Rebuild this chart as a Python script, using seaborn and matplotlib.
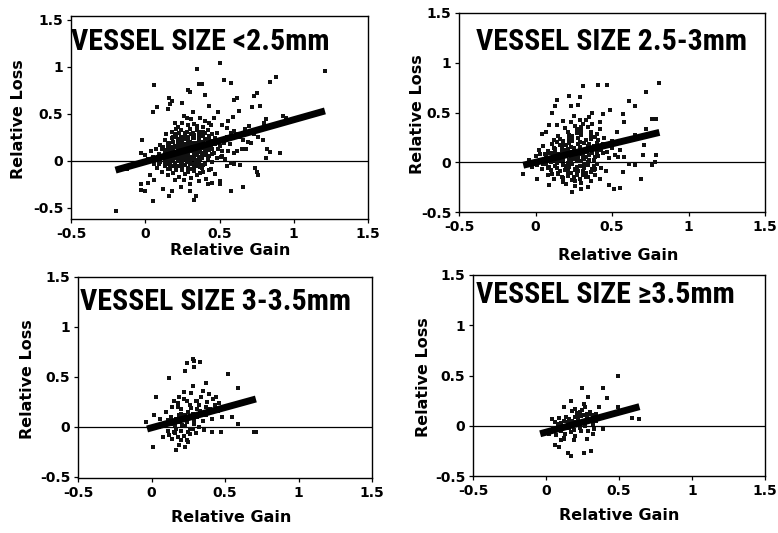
import matplotlib
matplotlib.use("Agg")
import matplotlib.pyplot as plt
from matplotlib import font_manager
import seaborn as sns
import pandas as pd

# ---------------- data ----------------
tick_values = [-0.5, 0, 0.5, 1, 1.5]
tick_labels = ["-0.5", "0", "0.5", "1", "1.5"]
panel_titles = ["VESSEL SIZE <2.5mm", "VESSEL SIZE 2.5-3mm",
                "VESSEL SIZE 3-3.5mm", "VESSEL SIZE \u22653.5mm"]

gain_lt25 = [-0.20, 1.21, 0.50, 0.35, 0.53, 0.58, 0.84, 0.88, 0.06, 0.36, 0.38, 0.29, 0.30, 0.40, 0.75,
             0.73, 0.60, 0.62, 0.16, 0.18, 0.17, 0.25, 0.08, 0.15, 0.32, 0.43, 0.49, 0.26, 0.28, 0.05,
             0.56, 0.59, 0.63, 0.72, 0.77, 0.81, 0.80, 0.93, 0.95, 0.91, 0.81, 0.84, 0.82, 0.79, 0.76,
             0.71, 0.69, 0.67, 0.70, 0.73, 0.74, 0.76, 0.75, 0.66, 0.58, 0.55, 0.60, 0.50, 0.50, 0.45,
             0.42, 0.33, 0.34, 0.30, 0.24, 0.18, 0.16, 0.12, 0.05, -0.03, -0.03, 0.00, 0.02, 0.06, 0.03,
             -0.02, -0.03, 0.00, -0.05, -0.12, 0.40, 0.43, 0.46, 0.52, 0.55, 0.58, 0.60, 0.62, 0.64, 0.66,
             0.56, 0.60, 0.62, 0.65, 0.68, 0.52, 0.54, 0.58, 0.64,
             0.14, 0.18, 0.21, 0.24, 0.27, 0.30, 0.33, 0.36, 0.39, 0.42, 0.45, 0.48, 0.22, 0.29, 0.35,
             0.20, 0.31, 0.37,
             0.10, 0.13, 0.16, 0.18, 0.20, 0.22, 0.24, 0.26, 0.28, 0.30, 0.32, 0.34, 0.36, 0.38, 0.40,
             0.42, 0.44, 0.47, 0.50, 0.53, 0.25, 0.29, 0.33, 0.21, 0.37,
             0.04, 0.07, 0.09, 0.11, 0.13, 0.15, 0.17, 0.19, 0.21, 0.23, 0.25, 0.27, 0.29, 0.31, 0.33,
             0.35, 0.37, 0.39, 0.41, 0.43, 0.46, 0.49, 0.52, 0.22, 0.26, 0.30, 0.34, 0.18, 0.28, 0.24,
             0.02, 0.06, 0.08, 0.10, 0.12, 0.14, 0.16, 0.18, 0.20, 0.22, 0.24, 0.26, 0.28, 0.30, 0.32,
             0.34, 0.36, 0.38, 0.40, 0.42, 0.45, 0.48, 0.25, 0.29, 0.19, 0.33,
             0.08, 0.11, 0.13, 0.15, 0.17, 0.19, 0.21, 0.23, 0.25, 0.27, 0.29, 0.31, 0.33, 0.35, 0.37,
             0.39, 0.41, 0.44, 0.47, 0.26, 0.20, 0.36, 0.30,
             0.15, 0.17, 0.19, 0.21, 0.23, 0.25, 0.27, 0.29, 0.31, 0.33, 0.35, 0.37, 0.39, 0.41, 0.43,
             0.45, 0.20, 0.24, 0.28, 0.32, 0.36, 0.40, 0.26, 0.30, 0.34, 0.22, 0.18, 0.16, 0.14, 0.12,
             0.24, 0.28, 0.32, 0.36, 0.23, 0.27, 0.31, 0.35, 0.19, 0.15, 0.39, 0.43, 0.21, 0.25, 0.33,
             0.39, 0.44, 0.47, 0.50, 0.51, 0.55, 0.57, 0.11, 0.09, 0.13, 0.05, 0.27, 0.29, 0.23, 0.35,
             0.16, 0.18, 0.20, 0.22, 0.24, 0.26, 0.28, 0.30, 0.32, 0.34, 0.36, 0.38, 0.40, 0.42, 0.44,
             0.17, 0.19, 0.21, 0.23, 0.25, 0.27, 0.29, 0.31, 0.33, 0.35, 0.37, 0.39, 0.41, 0.43, 0.45,
             0.15, 0.19, 0.23, 0.27, 0.31, 0.35, 0.39, 0.43, 0.21, 0.25, 0.29, 0.33, 0.37, 0.13, 0.17,
             0.22, 0.26, 0.30, 0.34, 0.38]
loss_lt25 = [-0.53, 0.96, 1.04, 0.98, 0.86, 0.83, 0.84, 0.89, 0.81, 0.82, 0.82, 0.75, 0.73, 0.70, 0.72,
             0.69, 0.65, 0.67, 0.67, 0.64, 0.60, 0.61, 0.57, 0.55, 0.52, 0.58, 0.52, 0.48, 0.45, 0.52,
             0.42, 0.47, 0.53, 0.57, 0.58, 0.44, 0.40, 0.48, 0.46, 0.08, 0.03, 0.09, 0.12, 0.22, 0.25,
             0.19, 0.20, 0.34, 0.37, 0.28, -0.08, -0.15, -0.12, -0.28, -0.32, -0.06, -0.04, -0.22, -0.25, -0.24,
             -0.25, -0.42, -0.38, -0.32, -0.28, -0.32, -0.37, -0.30, -0.43, -0.25, -0.31, -0.32, -0.24, -0.20, -0.15,
             0.22, 0.08, 0.06, -0.02, -0.09, 0.42, 0.40, 0.45, 0.38, 0.35, 0.30, 0.32, 0.28, 0.25, 0.22,
             0.10, 0.08, 0.10, 0.13, 0.12, 0.05, 0.02, -0.02, -0.05,
             0.28, 0.31, 0.26, 0.33, 0.29, 0.34, 0.27, 0.31, 0.26, 0.33, 0.28, 0.30, 0.36, 0.38, 0.37,
             0.40, 0.44, 0.46,
             0.17, 0.22, 0.19, 0.24, 0.16, 0.21, 0.18, 0.23, 0.16, 0.20, 0.24, 0.17, 0.22, 0.19, 0.23,
             0.16, 0.21, 0.18, 0.22, 0.19, 0.20, 0.25, 0.19, 0.25, 0.15,
             0.10, 0.13, 0.07, 0.12, 0.08, 0.14, 0.06, 0.11, 0.09, 0.14, 0.06, 0.12, 0.08, 0.13, 0.07,
             0.11, 0.09, 0.14, 0.06, 0.11, 0.08, 0.13, 0.10, 0.12, 0.09, 0.10, 0.14, 0.09, 0.05, 0.11,
             0.02, -0.03, 0.03, -0.01, 0.04, -0.04, 0.01, 0.04, -0.02, 0.03, -0.04, 0.02, -0.01, 0.04, -0.03,
             0.01, -0.02, 0.03, -0.04, 0.02, -0.01, 0.03, 0.00, 0.02, 0.00, 0.04,
             -0.08, -0.12, -0.06, -0.15, -0.09, -0.13, -0.07, -0.17, -0.10, -0.14, -0.08, -0.18, -0.11, -0.15, -0.07,
             -0.12, -0.19, -0.09, -0.14, -0.21, -0.20, -0.22, -0.25,
             0.02, 0.12, 0.20, 0.05, 0.08, 0.16, 0.03, 0.11, 0.17, 0.02, 0.06, 0.12, 0.08, 0.15, 0.05,
             0.12, 0.28, 0.25, 0.31, 0.30, 0.26, 0.29, 0.14, 0.15, 0.09, 0.17, 0.15, 0.08, 0.11, 0.15,
             0.02, 0.07, 0.10, 0.04, -0.06, -0.05, -0.09, -0.06, -0.06, -0.09, -0.05, -0.10, 0.34, 0.40, 0.39,
             0.36, 0.38, 0.24, 0.16, 0.04, 0.25, 0.18, 0.03, -0.04, -0.02, 0.04, 0.18, 0.22, 0.23, 0.19,
             0.06, 0.13, 0.03, 0.10, 0.18, 0.05, 0.14, 0.01, 0.16, 0.08, 0.21, 0.06, 0.11, 0.02, 0.17,
             -0.03, 0.02, 0.15, 0.07, 0.22, 0.10, 0.19, 0.04, 0.24, 0.13, 0.02, 0.20, 0.10, 0.26, 0.07,
             0.18, 0.25, 0.29, 0.25, 0.28, 0.33, 0.31, 0.22, -0.10, -0.07, -0.12, -0.08, -0.13, 0.00, -0.05,
             0.00, 0.04, -0.04, -0.01, -0.08]

gain_25_3 = [0.81, 0.72, 0.47, 0.41, 0.31, 0.22, 0.29, 0.14, 0.13, 0.11, 0.23, 0.28, 0.37, 0.44, 0.37,
             0.33, 0.49, 0.57, 0.65, 0.61, 0.76, 0.79, 0.72, 0.65, 0.71, 0.58, 0.53, 0.04, 0.07, 0.09,
             0.14, -0.08, 0.01, 0.09, 0.24, 0.30, 0.51, 0.55, 0.48, 0.57, 0.65, 0.70, 0.76, 0.78, 0.79,
             0.69, 0.61, 0.54,
             0.12, 0.15, 0.18, 0.21, 0.24, 0.27, 0.30, 0.33, 0.36, 0.39, 0.42, 0.45, 0.19, 0.26, 0.31, 0.23,
             0.02, 0.05, 0.08, 0.11, 0.13, 0.16, 0.19, 0.22, 0.25, 0.28, 0.31, 0.34, 0.37, 0.40, 0.43,
             0.47, 0.50, 0.24, 0.29, 0.17,
             -0.04, 0.00, 0.03, 0.06, 0.09, 0.12, 0.14, 0.17, 0.20, 0.22, 0.25, 0.27, 0.30, 0.32, 0.35,
             0.38, 0.41, 0.44, 0.48, 0.52, 0.23, 0.28, 0.18, 0.26, 0.15, 0.33,
             0.01, 0.04, 0.07, 0.10, 0.13, 0.16, 0.18, 0.21, 0.24, 0.26, 0.29, 0.31, 0.34, 0.37, 0.40,
             0.43, 0.46, 0.22, 0.27,
             0.08, 0.12, 0.15, 0.18, 0.21, 0.24, 0.27, 0.30, 0.33, 0.36, 0.39, 0.42, 0.26, 0.20, 0.34,
             0.10, 0.13, 0.15, 0.17, 0.19, 0.21, 0.23, 0.25, 0.27, 0.29, 0.31, 0.33, 0.35, 0.37, 0.39,
             0.41, 0.20, 0.24, 0.28, 0.32, 0.36, 0.40, 0.16, 0.12, 0.08, 0.06, 0.05, 0.09, 0.14, 0.19,
             0.23, 0.28, 0.32, 0.36, 0.25, 0.29, 0.17, 0.21, 0.26, 0.30, 0.34, 0.38, 0.44, 0.47, 0.50,
             0.55, 0.58, 0.22, 0.27, 0.34, 0.29, 0.35, 0.25, 0.18, 0.42, 0.03, -0.02, 0.11, 0.31, 0.38,
             0.07, 0.10, 0.13, 0.16, 0.19, 0.22, 0.25, 0.28, 0.31, 0.34, 0.37, 0.40,
             0.08, 0.11, 0.14, 0.17, 0.20, 0.23, 0.26, 0.29, 0.32, 0.35, 0.38, 0.41,
             0.12, 0.15, 0.18, 0.21, 0.24, 0.27, 0.30, 0.33, 0.36, 0.39, 0.14, 0.18, 0.22, 0.26, 0.30, 0.34]
loss_25_3 = [0.80, 0.71, 0.78, 0.78, 0.77, 0.67, 0.66, 0.63, 0.57, 0.50, 0.57, 0.58, 0.50, 0.48, 0.38,
             0.42, 0.53, 0.48, 0.57, 0.62, 0.43, 0.43, 0.33, 0.27, 0.17, 0.40, 0.30, 0.28, 0.30, 0.37,
             0.37, -0.12, -0.17, -0.23, -0.30, -0.27, -0.27, -0.26, -0.23, -0.10, -0.03, 0.07, -0.03, 0.00, 0.07,
             -0.17, -0.02, 0.05,
             0.22, 0.26, 0.21, 0.30, 0.24, 0.33, 0.27, 0.22, 0.30, 0.25, 0.33, 0.24, 0.34, 0.36, 0.38, 0.40,
             0.12, 0.16, 0.11, 0.18, 0.13, 0.17, 0.12, 0.19, 0.14, 0.18, 0.11, 0.16, 0.13, 0.19, 0.12,
             0.16, 0.14, 0.10, 0.15, 0.14,
             0.02, 0.06, 0.01, 0.08, 0.03, 0.07, 0.01, 0.05, 0.09, 0.02, 0.06, 0.01, 0.08, 0.03, 0.07,
             0.02, 0.06, 0.09, 0.04, 0.07, 0.05, 0.04, 0.02, 0.09, 0.08, 0.05,
             -0.03, -0.07, -0.02, -0.08, -0.04, -0.09, -0.03, -0.06, -0.02, -0.08, -0.04, -0.09, -0.03, -0.07, -0.02,
             -0.06, -0.09, -0.05, -0.05,
             -0.13, -0.17, -0.12, -0.20, -0.14, -0.18, -0.12, -0.21, -0.15, -0.19, -0.13, -0.17, -0.24, -0.22, -0.25,
             0.04, 0.10, 0.04, 0.09, 0.06, 0.13, 0.02, 0.11, 0.07, 0.12, 0.05, 0.10, 0.02, 0.09, 0.05,
             0.13, 0.17, 0.21, 0.24, 0.19, 0.23, 0.28, 0.23, 0.14, 0.09, 0.03, -0.02, -0.05, -0.06, -0.08,
             -0.11, -0.09, -0.06, -0.10, -0.15, -0.17, -0.15, -0.01, 0.03, 0.01, 0.13, 0.16, 0.18, 0.10, 0.21,
             0.12, 0.05, 0.27, 0.29, 0.35, 0.42, 0.45, 0.46, 0.41, 0.40, 0.08, -0.05, -0.12, -0.13, -0.04,
             0.05, 0.00, 0.06, 0.02, 0.08, 0.00, 0.04, 0.10, 0.07, 0.00, 0.11, 0.09,
             -0.06, 0.09, -0.01, 0.12, -0.04, 0.15, -0.07, 0.20, -0.02, 0.18, -0.08, 0.22,
             0.02, -0.11, 0.17, -0.10, 0.26, -0.13, 0.31, -0.11, 0.27, -0.07, 0.20, -0.16, 0.23, -0.19, 0.35, -0.15]

gain_3_35 = [0.29, 0.28, 0.33, 0.24, 0.29, 0.23, 0.52, 0.12, 0.37, 0.28, 0.59, 0.03, 0.02, -0.04, 0.01,
             0.17, 0.25, 0.25, 0.41, 0.47, 0.55, 0.59, 0.70, 0.71, 0.44, 0.39, 0.31, 0.15, 0.19, 0.20,
             0.06, 0.09, 0.11, 0.13, 0.15, 0.17, 0.19, 0.21, 0.23, 0.25, 0.27, 0.29, 0.31, 0.33, 0.35,
             0.37, 0.39, 0.41, 0.43, 0.45, 0.48, 0.12, 0.14, 0.16, 0.18, 0.20, 0.22, 0.24, 0.26, 0.28,
             0.30, 0.10, 0.14, 0.18, 0.22, 0.26, 0.30, 0.34, 0.38, 0.42, 0.20, 0.24, 0.28, 0.32, 0.36,
             0.16, 0.08, 0.05, 0.27, 0.35, 0.22, 0.19, 0.23, 0.12,
             0.13, 0.17, 0.21, 0.25, 0.29, 0.33, 0.19, 0.23, 0.27, 0.15, 0.20, 0.26, 0.31, 0.37, 0.40,
             0.46, 0.11, 0.18, 0.24, 0.32]
loss_3_35 = [0.66, 0.68, 0.65, 0.64, 0.60, 0.56, 0.53, 0.49, 0.44, 0.41, 0.39, 0.30, 0.12, 0.05, -0.20,
             -0.23, -0.15, -0.05, -0.05, -0.05, 0.10, 0.03, -0.05, -0.05, 0.30, 0.33, 0.26, 0.26, 0.30, 0.13,
             0.08, 0.03, -0.04, 0.10, 0.05, -0.02, 0.12, 0.07, 0.01, 0.15, 0.09, 0.03, 0.18, 0.12, 0.06,
             0.20, 0.14, 0.08, 0.22, 0.16, 0.10, -0.08, -0.12, -0.06, -0.10, -0.04, -0.09, -0.13, -0.07, -0.02,
             -0.06, 0.15, 0.20, 0.24, 0.28, 0.22, 0.26, 0.30, 0.25, 0.28, 0.18, 0.05, 0.13, 0.00, -0.03,
             0.02, -0.10, 0.00, 0.34, 0.36, 0.35, -0.18, -0.20, 0.04,
             0.03, 0.08, 0.02, 0.10, 0.07, 0.16, 0.05, 0.12, 0.19, -0.05, -0.13, -0.02, 0.10, 0.12, 0.18,
             0.24, 0.07, 0.20, 0.26, 0.22]

gain_ge35 = [0.49, 0.39, 0.25, 0.42, 0.29, 0.17, 0.12, 0.36, 0.49, 0.59, 0.64, 0.39, 0.15, 0.17, 0.26,
             0.31, 0.06, 0.09, 0.10, 0.12, 0.02, -0.02, 0.19, 0.28, 0.32, 0.33, 0.04, 0.14, 0.21, 0.23,
             0.20, 0.26, 0.30, 0.32, 0.28,
             0.05, 0.08, 0.10, 0.12, 0.14, 0.16, 0.18, 0.20, 0.22, 0.24, 0.26, 0.28, 0.30, 0.32, 0.11,
             0.15, 0.19, 0.23, 0.27, 0.13, 0.17, 0.21, 0.25, 0.09, 0.29, 0.34, 0.36, 0.07, 0.03, 0.18,
             0.10, 0.14, 0.18, 0.22, 0.26, 0.30, 0.16, 0.20, 0.24, 0.12, 0.20, 0.34, 0.27, 0.06, 0.08]
loss_ge35 = [0.50, 0.38, 0.38, 0.28, 0.29, 0.25, 0.19, 0.19, 0.19, 0.08, 0.07, -0.03, -0.27, -0.30, -0.27,
             -0.25, -0.19, -0.21, -0.14, -0.13, -0.08, -0.06, -0.14, -0.13, -0.08, -0.03, 0.07, 0.09, 0.11, 0.14,
             0.17, 0.22, 0.12, 0.11, 0.09,
             -0.02, 0.02, -0.05, 0.05, -0.01, 0.07, 0.01, 0.09, 0.03, 0.10, 0.05, 0.12, 0.06, 0.02, 0.00,
             0.04, -0.04, -0.02, 0.00, -0.08, -0.06, 0.13, 0.16, 0.08, -0.05, 0.05, 0.08, -0.09, -0.05, 0.15,
             0.03, 0.09, 0.05, 0.07, 0.11, 0.14, -0.02, 0.04, -0.05, -0.12, -0.10, 0.12, 0.19, 0.04, -0.04]

# regression line end points
fit_gain = [[-0.20, 1.21], [-0.08, 0.81], [-0.03, 0.71], [-0.04, 0.64]]
fit_loss = [[-0.10, 0.53], [-0.03, 0.30], [-0.02, 0.28], [-0.08, 0.19]]

# ---------------- style ----------------
sns.set_theme(style="white")
plt.rcParams['font.family'] = ['DejaVu Sans']
plt.rcParams['axes.edgecolor'] = 'black'

names = {f.name for f in font_manager.fontManager.ttflist}
title_family = None
for cand in ['Liberation Sans Narrow', 'DejaVu Sans Condensed', 'Roboto Condensed', 'Open Sans Condensed']:
    if cand in names:
        title_family = cand
        break
if title_family is None:
    title_family = 'Liberation Sans'
    title_size = 17.5
else:
    title_size = 21.5

W, H = 778, 533
fig = plt.figure(figsize=(W / 100, H / 100), dpi=100)
fig.patch.set_facecolor('white')

# axes boxes in pixels: left, right, top, bottom
boxes = [(71, 368, 16, 219), (459, 765, 13, 212), (78, 372, 277, 478), (473, 765, 275, 476)]
ylims = [(-0.62, 1.54), (-0.5, 1.5), (-0.51, 1.5), (-0.5, 1.5)]
ylabel_x = [-0.153, -0.112, -0.145, -0.145]
xlabel_pos = [(0.535, -0.118), (0.52, -0.181), (0.52, -0.159), (0.50, -0.159)]
title_pos = [(0.0, 0.833), (0.055, 0.814), (0.007, 0.836), (0.01, 0.861)]

gains = [gain_lt25, gain_25_3, gain_3_35, gain_ge35]
losses = [loss_lt25, loss_25_3, loss_3_35, loss_ge35]

for i in range(4):
    l, r, t, b = boxes[i]
    ax = fig.add_axes([l / W, 1 - b / H, (r - l) / W, (b - t) / H])
    df = pd.DataFrame({"Relative Gain": gains[i], "Relative Loss": losses[i]})
    sns.scatterplot(data=df, x="Relative Gain", y="Relative Loss", ax=ax,
                    marker='s', s=8, color='#111111', linewidth=0, zorder=3)
    ax.axhline(0, color='black', lw=0.9, zorder=2)
    line_df = pd.DataFrame({"g": fit_gain[i], "l": fit_loss[i]})
    sns.lineplot(data=line_df, x="g", y="l", ax=ax, color='black', lw=5,
                 solid_capstyle='butt', zorder=4)
    ax.set_xlim(-0.5, 1.5)
    ax.set_ylim(*ylims[i])
    ax.set_xticks(tick_values)
    ax.set_xticklabels(tick_labels)
    ax.set_yticks(tick_values)
    ax.set_yticklabels(tick_labels)
    ax.tick_params(axis='both', direction='out', length=3, width=0.9, color='black',
                   labelsize=10, pad=2.5, bottom=True, left=True)
    for lab in ax.get_xticklabels() + ax.get_yticklabels():
        lab.set_fontweight('bold')
        lab.set_color('black')
    for sp in ax.spines.values():
        sp.set_color('black')
        sp.set_linewidth(1.0)
    ax.set_xlabel("Relative Gain", fontsize=11.5, fontweight='bold', color='black')
    ax.set_ylabel("Relative Loss", fontsize=11.5, fontweight='bold', color='black')
    ax.xaxis.set_label_coords(*xlabel_pos[i])
    ax.yaxis.set_label_coords(ylabel_x[i], 0.49)
    tx, ty = title_pos[i]
    ax.text(tx, ty, panel_titles[i], transform=ax.transAxes, ha='left', va='baseline',
            fontsize=title_size, fontweight='bold', family=[title_family, 'DejaVu Sans'],
            color='black', zorder=5)

fig.savefig("out.png", dpi=100, facecolor='white')
